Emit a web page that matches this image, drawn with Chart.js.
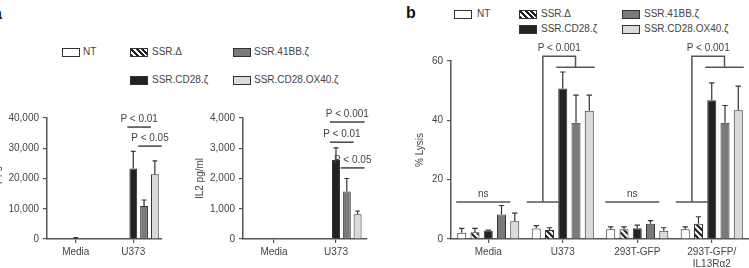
<!DOCTYPE html>
<html>
<head>
<meta charset="utf-8">
<script src="https://cdn.jsdelivr.net/npm/chart.js@4.4.1/dist/chart.umd.min.js"></script>
<style>
  body { margin: 0; width: 749px; height: 268px; background: #fff; position: relative; overflow: hidden;
         font-family: "Liberation Sans", Arial, sans-serif; color: #444; }
  .box { position: absolute; width: 16px; height: 7px; border: 1px solid #333; }
  .lab { position: absolute; font-size: 10px; line-height: 12px; color: #444; white-space: nowrap; }
  .panel { position: absolute; font-weight: bold; font-size: 16px; color: #111; }
  canvas { position: absolute; }
</style>
</head>
<body>
<div class="panel" style="left:-7px; top:5px;">a</div>
<div class="panel" style="left:406px; top:4px;">b</div>

<!-- legend panel a -->
<div class="box" style="left:62px; top:48px; background:#fff;"></div><div class="lab" style="left:83px; top:46px;">NT</div>
<div class="box hatch" style="left:130px; top:48px;"></div><div class="lab" style="left:152px; top:46px;">SSR.Δ</div>
<div class="box" style="left:233px; top:48px; background:#7a7a7a;"></div><div class="lab" style="left:254px; top:46px;">SSR.41BB.ζ</div>
<div class="box" style="left:130px; top:76px; background:#222;"></div><div class="lab" style="left:152px; top:74px;">SSR.CD28.ζ</div>
<div class="box" style="left:233px; top:76px; background:#dadada;"></div><div class="lab" style="left:254px; top:74px;">SSR.CD28.OX40.ζ</div>

<!-- legend panel b -->
<div class="box" style="left:454px; top:10px; background:#fff;"></div><div class="lab" style="left:477px; top:8px;">NT</div>
<div class="box hatch" style="left:519px; top:10px;"></div><div class="lab" style="left:541px; top:8px;">SSR.Δ</div>
<div class="box" style="left:622px; top:10px; background:#7a7a7a;"></div><div class="lab" style="left:644px; top:8px;">SSR.41BB.ζ</div>
<div class="box" style="left:519px; top:25px; background:#222;"></div><div class="lab" style="left:541px; top:23px;">SSR.CD28.ζ</div>
<div class="box" style="left:622px; top:25px; background:#dadada;"></div><div class="lab" style="left:644px; top:23px;">SSR.CD28.OX40.ζ</div>

<canvas id="ifnChart" width="182" height="168" style="left:-12px; top:100px;"></canvas>
<canvas id="il2Chart" width="200" height="168" style="left:180px; top:100px;"></canvas>
<canvas id="lysisChart" width="369" height="228" style="left:380px; top:40px;"></canvas>

<script>
// ---- data ----
const seriesNames = ['NT', 'SSR.Δ', 'SSR.CD28.ζ', 'SSR.41BB.ζ', 'SSR.CD28.OX40.ζ'];

const cytoCategories = ['Media', 'U373'];
const ifnValues = [[null, null], [null, null], [0, 23300], [0, 10900], [0, 21400]];
const ifnErrors = [[null, null], [null, null], [500, 29000], [null, 12900], [null, 25800]];
const il2Values = [[null, null], [null, null], [null, 2610], [null, 1570], [null, 815]];
const il2Errors = [[null, null], [null, null], [null, 3010], [null, 2000], [null, 925]];

const lysisCategories = ['Media', 'U373', '293T-GFP', ['293T-GFP/', 'IL13Rα2']];
const lysisValues = [
  [2.1, 3.5, 3.3, 3.3],
  [2.3, 3.0, 3.3, 5.1],
  [2.8, 50.7, 3.6, 46.8],
  [8.3, 39.2, 5.1, 39.2],
  [6.0, 43.2, 2.8, 43.4]
];
const lysisErrors = [
  [3.6, 4.5, 4.1, 4.1],
  [3.6, 3.8, 4.1, 7.5],
  [3.0, 56.3, 4.7, 52.6],
  [11.3, 48.5, 6.2, 45.0],
  [8.7, 48.5, 3.8, 51.5]
];

// significance lines: category, first/last dataset, y value
const ifnSig = [
  { text: 'P < 0.01', cat: 1, from: 2, to: 3, y: 37000 },
  { text: 'P < 0.05', cat: 1, from: 3, to: 4, y: 30700 }
];
const il2Sig = [
  { text: 'P < 0.001', cat: 1, from: 2, to: 4, y: 3870 },
  { text: 'P < 0.01', cat: 1, from: 2, to: 3, y: 3200 },
  { text: 'P < 0.05', cat: 1, from: 3, to: 4, y: 2350 }
];
const lysisNs = [
  { text: 'ns', cat: 0, y: 12.5 },
  { text: 'ns', cat: 2, y: 12.5 }
];
const lysisBrackets = [
  { text: 'P < 0.001', cat: 1, low: 12.5, high: 57.9, top: 61.6 },
  { text: 'P < 0.001', cat: 3, low: 12.5, high: 57.9, top: 61.6 }
];

// ---- styling ----
const FONT = '"Liberation Sans", Arial, sans-serif';

function hatchPattern() {
  const c = document.createElement('canvas');
  c.width = 6; c.height = 6;
  const g = c.getContext('2d');
  g.fillStyle = '#fff';
  g.fillRect(0, 0, 6, 6);
  g.strokeStyle = '#222';
  g.lineWidth = 2.2;
  g.beginPath();
  g.moveTo(-1, -1); g.lineTo(7, 7);
  g.moveTo(-4, 2); g.lineTo(4, 10);
  g.moveTo(2, -4); g.lineTo(10, 4);
  g.stroke();
  return g.createPattern(c, 'repeat');
}
document.querySelectorAll('.hatch').forEach(el => {
  el.style.background = 'repeating-linear-gradient(45deg, #222 0 2px, #fff 2px 4px)';
});

const fills = ['#fff', hatchPattern(), '#222', '#7a7a7a', '#dadada'];

function makeDatasets(values, errors, cp, bp) {
  return values.map((v, i) => ({
    label: seriesNames[i],
    data: v,
    errors: errors[i],
    backgroundColor: fills[i],
    borderColor: '#333',
    borderWidth: 1,
    categoryPercentage: cp,
    barPercentage: bp
  }));
}

const errorBars = {
  id: 'errorBars',
  afterDatasetsDraw(chart) {
    const ctx = chart.ctx;
    const y = chart.scales.y;
    ctx.save();
    ctx.strokeStyle = '#333';
    ctx.lineWidth = 1.2;
    chart.data.datasets.forEach((ds, di) => {
      const meta = chart.getDatasetMeta(di);
      ds.errors.forEach((e, i) => {
        if (e == null || ds.data[i] == null) return;
        const bar = meta.data[i];
        const top = y.getPixelForValue(e);
        const cap = Math.max(bar.width * 0.3, 2);
        ctx.beginPath();
        ctx.moveTo(bar.x, y.getPixelForValue(ds.data[i]));
        ctx.lineTo(bar.x, top);
        ctx.moveTo(bar.x - cap, top);
        ctx.lineTo(bar.x + cap, top);
        ctx.stroke();
      });
    });
    ctx.restore();
  }
};

function barEdge(chart, ds, cat, side) {
  const b = chart.getDatasetMeta(ds).data[cat];
  return side < 0 ? b.x - b.width / 2 : b.x + b.width / 2;
}

function sigPlugin(sigs) {
  return {
    id: 'sig',
    afterDraw(chart) {
      const ctx = chart.ctx;
      const y = chart.scales.y;
      ctx.save();
      ctx.strokeStyle = '#444';
      ctx.lineWidth = 1.5;
      ctx.fillStyle = '#444';
      ctx.font = '10px ' + FONT;
      ctx.textAlign = 'center';
      ctx.textBaseline = 'bottom';
      sigs.forEach(s => {
        const x1 = barEdge(chart, s.from, s.cat, -1) - 2;
        const x2 = barEdge(chart, s.to, s.cat, 1) + 3;
        const py = y.getPixelForValue(s.y);
        ctx.beginPath();
        ctx.moveTo(x1, py); ctx.lineTo(x2, py);
        ctx.stroke();
        ctx.fillText(s.text, (x1 + x2) / 2, py - 3);
      });
      ctx.restore();
    }
  };
}

const lysisAnnot = {
  id: 'lysisAnnot',
  afterDraw(chart) {
    const ctx = chart.ctx;
    const y = chart.scales.y;
    ctx.save();
    ctx.strokeStyle = '#555';
    ctx.lineWidth = 1.5;
    ctx.fillStyle = '#444';
    ctx.font = '10px ' + FONT;
    ctx.textAlign = 'center';
    ctx.textBaseline = 'bottom';
    lysisNs.forEach(s => {
      const x1 = barEdge(chart, 0, s.cat, -1) - 1;
      const x2 = barEdge(chart, 4, s.cat, -1);
      const py = y.getPixelForValue(s.y);
      ctx.beginPath();
      ctx.moveTo(x1, py); ctx.lineTo(x2, py);
      ctx.stroke();
      ctx.fillText(s.text, (x1 + x2) / 2, py - 3);
    });
    lysisBrackets.forEach(s => {
      const lx1 = barEdge(chart, 0, s.cat, -1) - 5;
      const lx2 = barEdge(chart, 1, s.cat, 1) + 5;
      const rx1 = barEdge(chart, 2, s.cat, -1) - 2;
      const rx2 = barEdge(chart, 4, s.cat, 1) + 1;
      const lm = (lx1 + lx2) / 2, rm = (rx1 + rx2) / 2;
      const pl = y.getPixelForValue(s.low), ph = y.getPixelForValue(s.high), pt = y.getPixelForValue(s.top);
      ctx.beginPath();
      ctx.moveTo(lx1, pl); ctx.lineTo(lx2, pl);
      ctx.moveTo(lm, pl); ctx.lineTo(lm, pt); ctx.lineTo(rm, pt); ctx.lineTo(rm, ph);
      ctx.moveTo(rx1, ph); ctx.lineTo(rx2, ph);
      ctx.stroke();
      ctx.fillText(s.text, (lm + rm) / 2, pt - 3);
    });
    ctx.restore();
  }
};

function options(yMax, yStep, yTitle, yAxisW, titlePad, padTop, padRight) {
  return {
    responsive: false,
    animation: false,
    layout: { padding: { top: padTop, right: padRight, left: 0, bottom: 0 } },
    plugins: { legend: { display: false }, tooltip: { enabled: false } },
    scales: {
      x: {
        grid: { display: true, drawOnChartArea: false, offset: false, tickLength: 4, color: '#555', lineWidth: 1.2 },
        border: { color: '#555', width: 1.5 },
        ticks: { color: '#444', font: { size: 10, family: FONT }, padding: 3, maxRotation: 0, autoSkip: false },
        afterFit: s => { s.height = 29; }
      },
      y: {
        min: 0, max: yMax,
        ticks: { stepSize: yStep, color: '#444', padding: 4,
                 font: { size: 10, family: FONT },
                 callback: v => v.toLocaleString('en-US') },
        grid: { drawOnChartArea: false, tickLength: 4, color: '#555', lineWidth: 1.2 },
        border: { color: '#555', width: 1.5 },
        title: { display: true, text: yTitle, color: '#444', padding: { top: titlePad, bottom: 0 },
                 font: { size: 10, family: FONT } },
        afterFit: s => { s.width = yAxisW; }
      }
    }
  };
}

new Chart(document.getElementById('ifnChart'), {
  type: 'bar',
  data: { labels: cytoCategories, datasets: makeDatasets(ifnValues, ifnErrors, 0.94, 0.72) },
  options: options(40000, 10000, 'IFN-γ pg/ml', 59, 3, 18, 8),
  plugins: [errorBars, sigPlugin(ifnSig)]
});

new Chart(document.getElementById('il2Chart'), {
  type: 'bar',
  data: { labels: cytoCategories, datasets: makeDatasets(il2Values, il2Errors, 0.87, 0.74) },
  options: options(4000, 1000, 'IL2 pg/ml', 63, 14, 18, 13),
  plugins: [errorBars, sigPlugin(il2Sig)]
});

new Chart(document.getElementById('lysisChart'), {
  type: 'bar',
  data: { labels: lysisCategories, datasets: makeDatasets(lysisValues, lysisErrors, 0.89, 0.68) },
  options: options(60, 20, '% Lysis', 71, 34, 21, 0),
  plugins: [errorBars, lysisAnnot]
});
</script>
</body>
</html>
